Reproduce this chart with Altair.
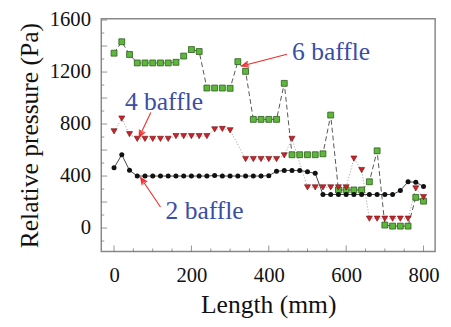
import math
import altair as alt
import pandas as pd

# ---------------- data ----------------
length = [0, 20, 40, 60, 80, 100, 120, 140, 160, 180, 200, 220, 240, 260, 280,
          300, 320, 340, 360, 380, 400, 420, 440, 460, 480, 500, 520, 540, 560,
          580, 600, 620, 640, 660, 680, 700, 720, 740, 760, 780, 800]

baffle2 = [463, 564, 444, 400, 400, 400, 400, 400, 400, 400, 400, 400, 400, 404, 400,
           400, 400, 400, 400, 400, 403, 436, 443, 443, 443, 433, 421, 258, 258,
           258, 258, 258, 258, 258, 258, 258, 258, 288, 356, 352, 320]

baffle4 = [744, 842, 722, 686, 686, 686, 686, 686, 707, 707, 707, 707, 707, 759, 762,
           752, None, 531, 531, 531, 531, 531, 559, 686, None, 313, 313, 313, 313,
           313, 313, 534, 446, 72, 72, 72, 72, 72, 72, 305, 238]

baffle6 = [1345, 1433, 1335, 1270, 1270, 1270, 1270, 1270, 1275, 1323, 1373, 1358, 1077, 1077, 1077,
           1075, 1280, 1205, 836, 836, 836, 836, 1113, 564, 564, 564, 564, 571, 869,
           293, 293, 293, 293, 356, 594, 23, 15, 15, 15, 236, 207]

x_ticks_major = [0, 200, 400, 600, 800]
y_ticks_major = [0, 200, 400, 600, 800, 1000, 1200, 1400, 1600]
x_ticks_minor = [50, 100, 150, 250, 300, 350, 450, 500, 550, 650, 700, 750]
y_ticks_minor = [-100, 100, 300, 500, 700, 900, 1100, 1300, 1500]

labels = ["6 baffle", "4 baffle", "2 baffle"]
label_x = [460, 28, 133]
label_y = [1352, 972, 130]
arrow_tail_x = [447, 95, 120]
arrow_tail_y = [1337, 888, 162]
arrow_tip_x = [330, 65, 69]
arrow_tip_y = [1247, 700, 387]

# ---------------- layout ----------------
W, H = 340, 237
XDOM = [-33, 830]
YDOM = [-180, 1610]
FONT = "Liberation Serif, Times New Roman, serif"
BLUE = "#3a4ea3"
RED = "#ee2a2a"

xs = alt.Scale(domain=XDOM, nice=False, zero=False)
ys = alt.Scale(domain=YDOM, nice=False, zero=False)

def series_df(vals):
    return pd.DataFrame({"length": length, "pressure": vals}).dropna()

d2, d4, d6 = series_df(baffle2), series_df(baffle4), series_df(baffle6)

X = alt.X("length:Q", scale=xs, axis=alt.Axis(
    values=x_ticks_major, format="d", ticks=False, domain=False, grid=False,
    labelFont=FONT, labelFontSize=21, labelColor="#111", labelPadding=14,
    title="Length (mm)", titleFont=FONT, titleFontSize=26, titleFontWeight="normal",
    titleColor="#111", titlePadding=6))
Y = alt.Y("pressure:Q", scale=ys, axis=alt.Axis(
    values=y_ticks_major, format="d", ticks=False, domain=False, grid=False,
    labelFont=FONT, labelFontSize=21, labelColor="#111", labelPadding=11,
    title="Relative pressure (Pa)", titleFont=FONT, titleFontSize=26,
    titleFontWeight="normal", titleColor="#111", titlePadding=7))

line6 = alt.Chart(d6).mark_line(color="#555", strokeWidth=1, strokeDash=[5, 3]).encode(x=X, y=Y)
line4 = alt.Chart(d4).mark_line(color="#999", strokeWidth=1, strokeDash=[1, 2]).encode(x=X, y=Y)
line2 = alt.Chart(d2).mark_line(color="#444", strokeWidth=1).encode(x=X, y=Y)

pt6 = alt.Chart(d6).mark_point(shape="square", filled=True, size=36, color="#5cb83a",
                               stroke="#2f5a1e", strokeWidth=0.8, opacity=1).encode(x=X, y=Y)
pt4 = alt.Chart(d4).mark_point(shape="triangle-down", filled=True, size=38, color="#cc2228",
                               stroke="#6a1010", strokeWidth=0.6, opacity=1).encode(x=X, y=Y)
pt2 = alt.Chart(d2).mark_point(shape="circle", filled=True, size=26, color="#111",
                               opacity=1).encode(x=X, y=Y)

# inward axis ticks
xt_major = alt.Chart(pd.DataFrame({"t": x_ticks_major})).mark_tick(
    orient="vertical", color="#666", thickness=1, size=6).encode(
    x=alt.X("t:Q", scale=xs), y=alt.value(H - 3))
xt_minor = alt.Chart(pd.DataFrame({"t": x_ticks_minor})).mark_tick(
    orient="vertical", color="#666", thickness=1, size=3).encode(
    x=alt.X("t:Q", scale=xs), y=alt.value(H - 1.5))
yt_major = alt.Chart(pd.DataFrame({"t": y_ticks_major})).mark_tick(
    orient="horizontal", color="#666", thickness=1, size=6).encode(
    y=alt.Y("t:Q", scale=ys), x=alt.value(3))
yt_minor = alt.Chart(pd.DataFrame({"t": y_ticks_minor})).mark_tick(
    orient="horizontal", color="#666", thickness=1, size=3).encode(
    y=alt.Y("t:Q", scale=ys), x=alt.value(1.5))

# annotations
def px(x, y):
    return ((x - XDOM[0]) / (XDOM[1] - XDOM[0]) * W,
            H - (y - YDOM[0]) / (YDOM[1] - YDOM[0]) * H)

angles = []
for tx, ty, hx, hy in zip(arrow_tail_x, arrow_tail_y, arrow_tip_x, arrow_tip_y):
    x1, y1 = px(tx, ty)
    x2, y2 = px(hx, hy)
    dx, dy = x2 - x1, y2 - y1
    ang = math.degrees(math.atan2(dx, -dy)) % 360
    angles.append(ang)

ann = pd.DataFrame({"label": labels, "lx": label_x, "ly": label_y,
                    "tx": arrow_tail_x, "ty": arrow_tail_y,
                    "hx": arrow_tip_x, "hy": arrow_tip_y, "ang": angles})

arrows = alt.Chart(ann).mark_rule(color=RED, strokeWidth=1.1).encode(
    x=alt.X("tx:Q", scale=xs), y=alt.Y("ty:Q", scale=ys),
    x2="hx:Q", y2="hy:Q")
heads = alt.Chart(ann).mark_point(
    shape="M-0.45,1L0,0L0.45,1M-0.22,1L0,0L0.22,1", filled=False, color=RED,
    strokeWidth=1, size=200, opacity=1).encode(
    x=alt.X("hx:Q", scale=xs), y=alt.Y("hy:Q", scale=ys),
    angle=alt.Angle("ang:Q", scale=None))
texts = alt.Chart(ann).mark_text(font=FONT, fontSize=26, color=BLUE, align="left",
                                 baseline="middle").encode(
    x=alt.X("lx:Q", scale=xs), y=alt.Y("ly:Q", scale=ys), text="label:N")

chart = alt.layer(
    line6, line4, line2, pt6, pt4, pt2,
    xt_major, xt_minor, yt_major, yt_minor,
    arrows, heads, texts
).properties(
    width=W, height=H,
    autosize=alt.AutoSizeParams(type="none"),
    padding={"left": 95, "top": 8, "right": 8, "bottom": 74},
    background="white",
).configure_view(stroke="#888", strokeWidth=1.5)

chart.save("out.html", embed_options={"renderer": "svg", "actions": False})
